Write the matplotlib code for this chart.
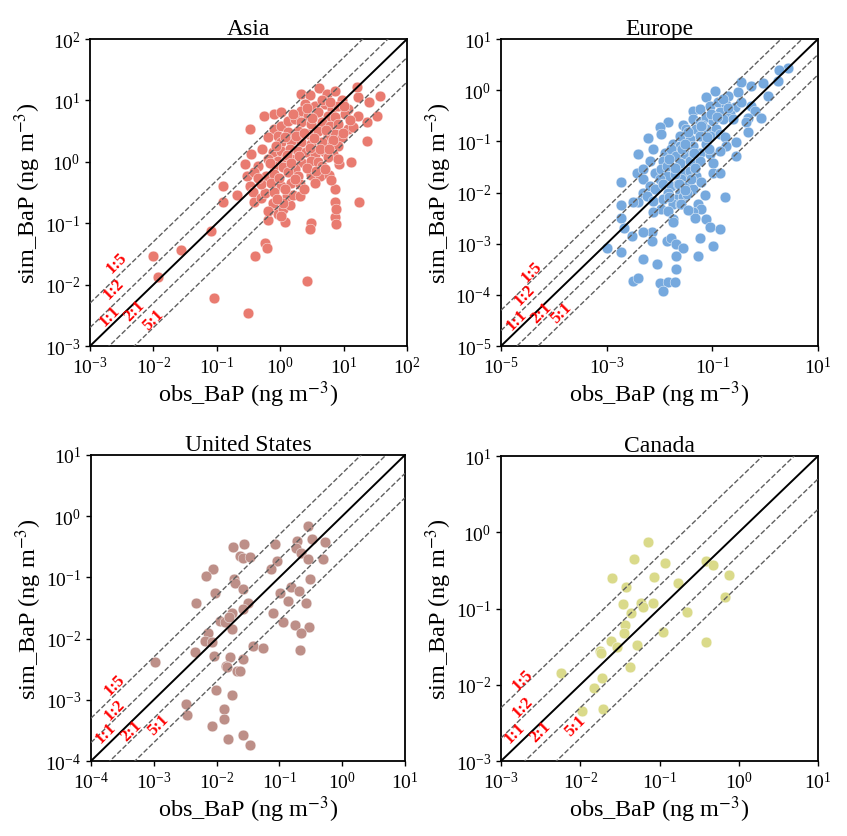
import matplotlib
matplotlib.use('Agg')
import matplotlib.pyplot as plt

plt.rcParams['font.family'] = ['Liberation Serif', 'DejaVu Serif']
plt.rcParams['mathtext.fontset'] = 'stix'

# ---------------- data (ng m^-3) ----------------
asia_obs = [0.0099, 0.027, 0.012, 0.082, 0.091, 0.31, 2.6, 0.40, 0.58, 0.61,
            0.124, 0.124, 0.21, 3.1, 2.9, 7.3, 7.7, 7.3, 7.7, 7.3,
            17.5, 13.1, 8.5, 23.4, 37.7, 24.7, 16.7, 16.3, 33.4, 23.2,
            16.7, 0.33, 0.55, 0.79, 1.04, 0.35, 0.51, 0.65, 1.17, 1.01,
            0.28, 0.30, 0.33, 0.37, 0.38, 0.77, 0.92, 1.10, 1.41, 1.29,
            1.59, 2.03, 0.50, 0.58, 2.15, 2.9, 4.1, 5.4, 7.3, 9.3,
            11.9,
            2.43, 3.51, 5.06, 6.46, 8.22, 10.5, 2.15, 2.75, 3.96, 5.71,
            7.28, 0.81, 1.04, 1.32, 1.69, 2.15, 3.10, 4.48, 6.07, 8.22,
            11.9, 14.2, 0.64, 0.92, 1.32, 1.91, 2.75, 3.96, 5.71, 7.28,
            9.29, 1.04, 1.50, 2.15, 3.10, 4.48, 6.46, 8.22, 0.77, 1.04,
            1.41, 1.91, 2.59, 3.51, 5.06, 6.85, 0.64, 0.92, 1.24, 1.69,
            2.15, 3.10, 3.96, 5.71, 8.22, 0.44, 0.81, 1.10, 1.69, 4.48,
            0.39, 0.60, 0.81, 1.32, 1.91, 3.10, 4.21, 5.85, 0.50, 0.72,
            1.04, 1.50, 2.03, 3.51, 0.81, 0.77, 1.10, 0.64, 1.04,
            1.2, 1.8, 2.4, 3.4, 5.2, 6.8, 0.85, 1.3, 2.0, 2.9,
            4.2, 5.8, 9.8, 1.6, 2.6, 3.2, 4.6, 6.0, 10.0, 12.5,
            0.70, 1.5, 2.6, 3.6, 5.0, 6.3, 0.95, 1.7, 2.4, 0.45,
            1.2, 0.9]
asia_sim = [0.029, 0.036, 0.0135, 0.075, 0.0061, 0.0034, 0.0115, 0.029, 0.048, 0.040,
            0.41, 0.22, 0.29, 0.10, 0.080, 0.124, 0.096, 0.22, 0.17, 0.36,
            0.22, 1.0, 0.91, 2.2, 11.9, 9.3, 11.2, 16.3, 5.5, 4.4,
            5.5, 3.4, 5.6, 6.0, 6.4, 1.33, 1.61, 0.113, 0.103, 0.14,
            0.92, 0.59, 0.41, 0.32, 0.22, 0.17, 0.14, 0.17, 0.20, 0.28,
            0.29, 0.28, 0.26, 0.31, 12.7, 12.2, 15.7, 12.7, 14.4, 10.3,
            7.2,
            8.71, 8.19, 8.71, 7.23, 8.19, 5.98, 6.79, 5.62, 6.37, 5.62,
            5.28, 3.41, 3.86, 4.66, 4.96, 4.38, 4.11, 4.38, 3.86, 4.11,
            3.41, 3.63, 2.49, 2.65, 3.01, 3.20, 2.82, 3.20, 2.65, 2.82,
            2.49, 2.07, 2.20, 2.07, 1.94, 2.07, 1.94, 1.82, 1.42, 1.51,
            1.61, 1.51, 1.42, 1.33, 1.42, 1.33, 1.10, 1.04, 1.18, 1.10,
            0.975, 1.04, 0.975, 1.18, 1.10, 0.86, 0.86, 0.81, 0.76, 0.86,
            0.67, 0.59, 0.63, 0.67, 0.59, 0.61, 0.59, 0.61, 0.43, 0.46,
            0.41, 0.46, 0.43, 0.46, 0.32, 0.217, 0.217, 0.159, 0.132,
            2.5, 2.6, 3.0, 2.4, 3.3, 2.3, 1.8, 1.3, 1.25, 1.7,
            1.6, 1.6, 2.9, 6.0, 7.6, 5.2, 10.0, 9.5, 8.0, 4.8,
            0.95, 0.95, 0.80, 0.72, 0.75, 0.50, 0.55, 0.52, 0.36, 0.55,
            0.36, 0.25]

europe_obs = [2.70, 1.80, 1.75, 0.91, 1.13, 0.548, 0.354, 0.306, 0.111, 0.198, 0.0773,
              0.0433, 0.0578, 0.0893, 0.128, 0.185, 0.265, 0.138, 0.103, 0.213, 0.548, 0.634, 0.160,
              0.0146, 0.0101, 0.0280, 0.0433, 0.0578, 0.0773, 0.103, 0.160, 0.247, 0.474, 0.848,
              0.441, 0.0324, 0.0500, 0.0773, 0.119,
              0.0061, 0.0109, 0.0181, 0.0242, 0.0374, 0.0578, 0.0893, 0.138, 0.171, 0.285,
              0.474, 0.185, 0.0242, 0.0433, 0.0773,
              0.0076, 0.0039, 0.0066, 0.0126, 0.0168, 0.0209, 0.0301, 0.0433, 0.0578, 0.0893,
              0.138, 0.285, 0.0117, 0.0242, 0.0374, 0.0578, 0.103,
              0.0037, 0.0049, 0.0049, 0.0082, 0.0109, 0.0136, 0.0195, 0.0280, 0.0374, 0.0500,
              0.103, 0.138, 0.0101, 0.0260,
              0.0019, 0.0049, 0.0066, 0.0082, 0.0117, 0.0168, 0.0225, 0.0324, 0.0433, 0.0242,
              0.0146, 0.0718, 0.171, 0.0039,
              0.0019, 0.0032, 0.0057, 0.0076, 0.0117, 0.0209, 0.0280, 0.0181, 0.0242, 0.0109,
              0.0146, 0.0076, 0.0537, 0.0621, 0.0433,
              0.0019, 0.0021, 0.0181, 0.0181, 0.0465, 0.0773, 0.0893, 0.138, 0.0071, 0.0049,
              0.0010, 0.0019, 0.0030, 0.0071, 0.0136, 0.0168, 0.0209, 0.0280, 0.0209, 0.0049,
              0.0088, 0.0537, 0.103, 0.0578,
              0.0209, 0.0032, 0.0039, 0.0101, 0.0146, 0.0195, 0.0117,
              0.0350, 0.0650, 0.0950, 0.0160, 0.0270, 0.0470, 0.0850, 0.0230, 0.0400, 0.0140,
              0.0330, 0.0200, 0.0620, 0.0300,
              0.020, 0.015, 0.030, 0.060, 0.120, 0.200, 0.350, 0.080, 0.045, 0.025,
              0.035, 0.015]
europe_sim = [2.67, 2.51, 1.53, 1.38, 0.778, 1.19, 1.42, 0.904, 0.975, 0.778, 0.721,
              0.396, 0.427, 0.496, 0.577, 0.511, 0.460, 0.367, 0.316, 0.340, 0.496, 0.396, 0.670,
              0.241, 0.195, 0.207, 0.272, 0.234, 0.293, 0.252, 0.272, 0.272, 0.280, 0.280,
              0.234, 0.173, 0.173, 0.173, 0.173,
              0.114, 0.138, 0.088, 0.128, 0.110, 0.128, 0.128, 0.138, 0.119, 0.098,
              0.149, 0.082, 0.082, 0.082, 0.088,
              0.0703, 0.0562, 0.0416, 0.0605, 0.0703, 0.0521, 0.0562, 0.0562, 0.0605, 0.0562,
              0.0653, 0.0521, 0.0416, 0.0385, 0.0416, 0.0416, 0.0385,
              0.0246, 0.0286, 0.0182, 0.0246, 0.0286, 0.0211, 0.0286, 0.0246, 0.0265, 0.0211,
              0.0246, 0.0246, 0.0182, 0.0182,
              0.0161, 0.0100, 0.0135, 0.0116, 0.0145, 0.0135, 0.0145, 0.0135, 0.0116, 0.0100,
              0.0100, 0.0090, 0.0080, 0.0064,
              0.0057, 0.0064, 0.0086, 0.0069, 0.0074, 0.0074, 0.0080, 0.0059, 0.0059, 0.0047,
              0.0044, 0.0041, 0.0059, 0.0047, 0.0041,
              0.0032, 0.0020, 0.0030, 0.0026, 0.0032, 0.0030, 0.0021, 0.0019, 0.0017, 0.0017,
              0.00084, 0.00069, 0.00142, 0.00113, 0.00113, 0.00132, 0.00097, 0.00084, 0.00058, 0.00050,
              0.00040, 0.00058, 0.00090, 0.00132,
              0.00032, 0.00019, 0.00021, 0.00017, 0.00018, 0.00018, 0.00012,
              0.150, 0.210, 0.340, 0.0330, 0.0700, 0.0300, 0.0720, 0.0150, 0.0180, 0.0330,
              0.0095, 0.0230, 0.0160, 0.0110,
              0.030, 0.045, 0.090, 0.200, 0.300, 0.450, 0.600, 0.120, 0.060, 0.006,
              0.0045, 0.008]

us_obs = [0.283, 0.194, 0.327, 0.533, 0.0855, 0.0278, 0.0182, 0.185, 0.219, 0.290,
          0.502, 0.0931, 0.0232, 0.0268, 0.0342, 0.0729, 0.00873, 0.00684, 0.0193, 0.0198,
          0.308, 0.0268, 0.00951, 0.152, 0.208, 0.103, 0.00474, 0.0322, 0.0262, 0.139,
          0.266, 0.0785, 0.0175, 0.0114, 0.0137, 0.116, 0.178, 0.301, 0.0175, 0.00718,
          0.00659, 0.00841, 0.219, 0.0378, 0.0545, 0.214, 0.00446, 0.00916, 0.0161, 0.0268,
          0.0142, 0.0146, 0.0210, 0.0232, 0.00105, 0.00987, 0.0175, 0.00324, 0.00337, 0.0132,
          0.0132, 0.00861, 0.0151, 0.0259, 0.0342, 0.0155]
us_sim = [0.695, 0.396, 0.422, 0.382, 0.358, 0.349, 0.316, 0.308, 0.249, 0.199,
          0.199, 0.182, 0.220, 0.204, 0.212, 0.137, 0.137, 0.106, 0.0940, 0.0798,
          0.0940, 0.0645, 0.0556, 0.0687, 0.0607, 0.0556, 0.0382, 0.0382, 0.0305, 0.0417,
          0.0377, 0.0265, 0.0259, 0.0196, 0.0185, 0.0185, 0.0169, 0.0157, 0.0144, 0.0124,
          0.00927, 0.00893, 0.0124, 0.00750, 0.00705, 0.00653, 0.00598, 0.00515, 0.00497, 0.00466,
          0.00363, 0.00341, 0.00301, 0.00293, 0.00411, 0.00147, 0.00122, 0.000861, 0.000556, 0.000695,
          0.000490, 0.000372, 0.000225, 0.000269, 0.000180, 0.0223]

canada_obs = [0.0726, 0.0483, 0.116, 0.388, 0.467, 0.752, 0.0248, 0.0857, 0.171, 0.0376,
              0.662, 0.0344, 0.0586, 0.0615, 0.0824, 0.0431, 0.221, 0.0372, 0.0354, 0.110,
              0.0245, 0.0294, 0.0527, 0.0178, 0.0182, 0.385, 0.0422, 0.00568, 0.0189, 0.0147,
              0.0196, 0.0106]
canada_sim = [0.749, 0.445, 0.394, 0.423, 0.371, 0.274, 0.248, 0.256, 0.213, 0.193,
              0.143, 0.115, 0.118, 0.104, 0.118, 0.0865, 0.0891, 0.0614, 0.0478, 0.0498,
              0.0372, 0.0310, 0.0333, 0.0281, 0.0262, 0.0368, 0.0170, 0.0142, 0.0124, 0.0092,
              0.00484, 0.00447]

regions = ['Asia', 'Europe', 'United States', 'Canada']
obs_data = [asia_obs, europe_obs, us_obs, canada_obs]
sim_data = [asia_sim, europe_sim, us_sim, canada_sim]
limits = [(1e-3, 1e2), (1e-5, 1e1), (1e-4, 1e1), (1e-3, 1e1)]
colors = ['#E97B70', '#76A9DE', '#BD8F88', '#DADA8A']

ratio_labels = ['1:5', '1:2', '1:1', '2:1', '5:1']
ratio_factors = [5, 2, 1, 0.5, 0.2]
# label centres in axes fraction for each panel
label_pos = [
    [(0.084, 0.273), (0.074, 0.188), (0.061, 0.099), (0.139, 0.115), (0.200, 0.088)],
    [(0.097, 0.245), (0.076, 0.169), (0.049, 0.088), (0.128, 0.110), (0.191, 0.110)],
    [(0.076, 0.252), (0.076, 0.170), (0.048, 0.094), (0.130, 0.099), (0.214, 0.121)],
    [(0.070, 0.269), (0.070, 0.181), (0.044, 0.094), (0.123, 0.099), (0.233, 0.116)],
]

axes_rects = [
    [0.1063, 0.5854, 0.3743, 0.3668],
    [0.5915, 0.5854, 0.3743, 0.3668],
    [0.1074, 0.0896, 0.3707, 0.3656],
    [0.5915, 0.0896, 0.3743, 0.3644],
]

fig = plt.figure(figsize=(8.47, 8.37), dpi=100)

for i in range(4):
    ax = fig.add_axes(axes_rects[i])
    lo, hi = limits[i]
    ax.scatter(obs_data[i], sim_data[i], s=60, color=colors[i],
               edgecolors='white', linewidths=0.3, zorder=2)
    for r, lab, pos in zip(ratio_factors, ratio_labels, label_pos[i]):
        if r == 1:
            ax.plot([lo, hi], [lo, hi], color='black', lw=1.4, zorder=4)
        else:
            ax.plot([lo, hi], [lo * r, hi * r], color='#606060', lw=1.0,
                    ls='--', zorder=3)
        ax.text(pos[0], pos[1], lab, transform=ax.transAxes, rotation=45,
                color='red', fontsize=12, fontweight='bold',
                ha='center', va='center', zorder=5)
    ax.set_xscale('log')
    ax.set_yscale('log')
    ax.set_xlim(lo, hi)
    ax.set_ylim(lo, hi)
    ax.minorticks_off()
    ax.tick_params(direction='out', length=3.5, width=1, labelsize=14)
    for sp in ax.spines.values():
        sp.set_linewidth(1.3)
    ax.set_title(regions[i], fontsize=17, pad=3)
    ax.set_xlabel('obs_BaP (ng m$^{-3}$)', fontsize=17.5, labelpad=1)
    ax.set_ylabel('sim_BaP (ng m$^{-3}$)', fontsize=17.5, labelpad=1)

fig.savefig('out.png', dpi=100)
